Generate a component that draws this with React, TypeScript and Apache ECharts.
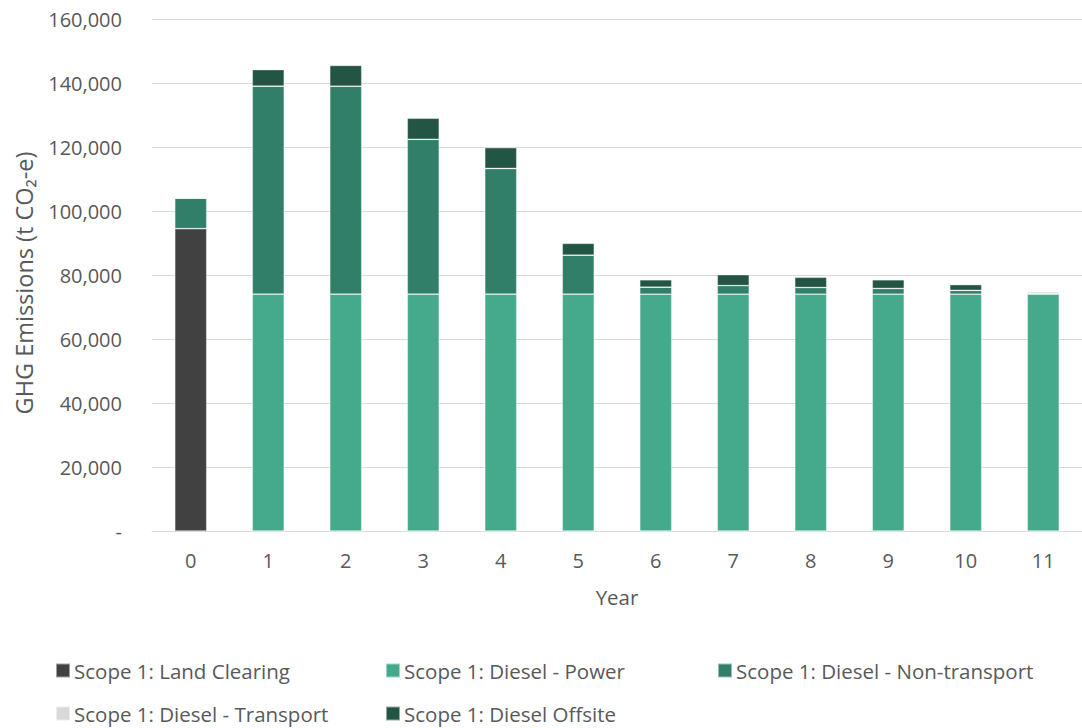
import React, { useEffect, useRef } from "react";
import * as echarts from "echarts";

const years = ["0", "1", "2", "3", "4", "5", "6", "7", "8", "9", "10", "11"];
const landClearing = [94500, 0, 0, 0, 0, 0, 0, 0, 0, 0, 0, 0];
const dieselPower = [0, 74000, 74000, 74000, 74000, 74000, 74000, 74000, 74000, 74000, 74000, 74000];
const dieselNonTransport = [9500, 65000, 65000, 48400, 39300, 12200, 2200, 2700, 2100, 1800, 1200, 300];
const dieselTransport = [0, 0, 0, 0, 0, 0, 0, 0, 0, 0, 0, 0];
const dieselOffsite = [0, 5200, 6500, 6600, 6500, 3700, 2300, 3400, 3200, 2700, 1800, 300];

const seriesNames = [
  "Scope 1: Land Clearing",
  "Scope 1: Diesel - Power",
  "Scope 1: Diesel - Non-transport",
  "Scope 1: Diesel - Transport",
  "Scope 1: Diesel Offsite",
];
const seriesData = [landClearing, dieselPower, dieselNonTransport, dieselTransport, dieselOffsite];
const colors = ["#414141", "#44aa8b", "#327f69", "#d9d9d9", "#235545"];

const FONT = "Open Sans";
const TXT = "#595959";

export default function App() {
  const ref = useRef<HTMLDivElement>(null);
  useEffect(() => {
    if (!ref.current) return;
    const chart = echarts.init(ref.current, undefined, { renderer: "svg" });
    const legendPos = [
      { left: 55, top: 660 },
      { left: 385, top: 660 },
      { left: 717, top: 660 },
      { left: 55, top: 703 },
      { left: 385, top: 703 },
    ];
    chart.setOption({
      animation: false,
      color: colors,
      textStyle: { fontFamily: FONT },
      grid: { left: 152, right: 0, top: 19, bottom: 197, containLabel: false },
      graphic: [
        {
          type: "text",
          x: 24,
          y: 283,
          rotation: Math.PI / 2,
          style: {
            text: "GHG Emissions (t CO\u2082-e)",
            fontFamily: FONT,
            fontSize: 23.5,
            fill: TXT,
            textAlign: "center",
            textVerticalAlign: "middle",
          },
        },
      ],
      xAxis: {
        type: "category",
        data: years,
        name: "Year",
        nameLocation: "middle",
        nameGap: 55,
        nameTextStyle: { fontFamily: FONT, fontSize: 20.5, color: TXT },
        axisLine: { lineStyle: { color: "#d9d9d9", width: 1 } },
        axisTick: { show: false },
        axisLabel: { fontFamily: FONT, fontSize: 20, color: TXT, margin: 19 },
      },
      yAxis: {
        type: "value",
        min: 0,
        max: 160000,
        interval: 20000,
        axisLine: { show: false },
        axisTick: { show: false },
        splitLine: { lineStyle: { color: "#d9d9d9", width: 1 } },
        axisLabel: {
          fontFamily: FONT,
          fontSize: 20,
          color: TXT,
          margin: 30,
          formatter: (v: number) => (v === 0 ? "-" : v.toLocaleString("en-US")),
        },
      },
      legend: seriesNames.map((n, i) => ({
        data: [n],
        left: legendPos[i].left,
        top: legendPos[i].top,
        padding: 0,
        icon: "rect",
        itemWidth: 14,
        itemHeight: 14,
        itemGap: 0,
        selectedMode: false,
        textStyle: { fontFamily: FONT, fontSize: 20.5, color: TXT, padding: [0, 0, 0, -1] },
      })),
      series: seriesNames.map((n, i) => ({
        name: n,
        type: "bar",
        stack: "total",
        data: seriesData[i],
        barWidth: 32,
        itemStyle: { color: colors[i], borderColor: "rgba(255,255,255,0.5)", borderWidth: 0.7 },
      })),
    });
    return () => chart.dispose();
  }, []);
  return <div ref={ref} style={{ width: 1082, height: 728, position: "absolute", left: 0, top: 0 }} />;
}
